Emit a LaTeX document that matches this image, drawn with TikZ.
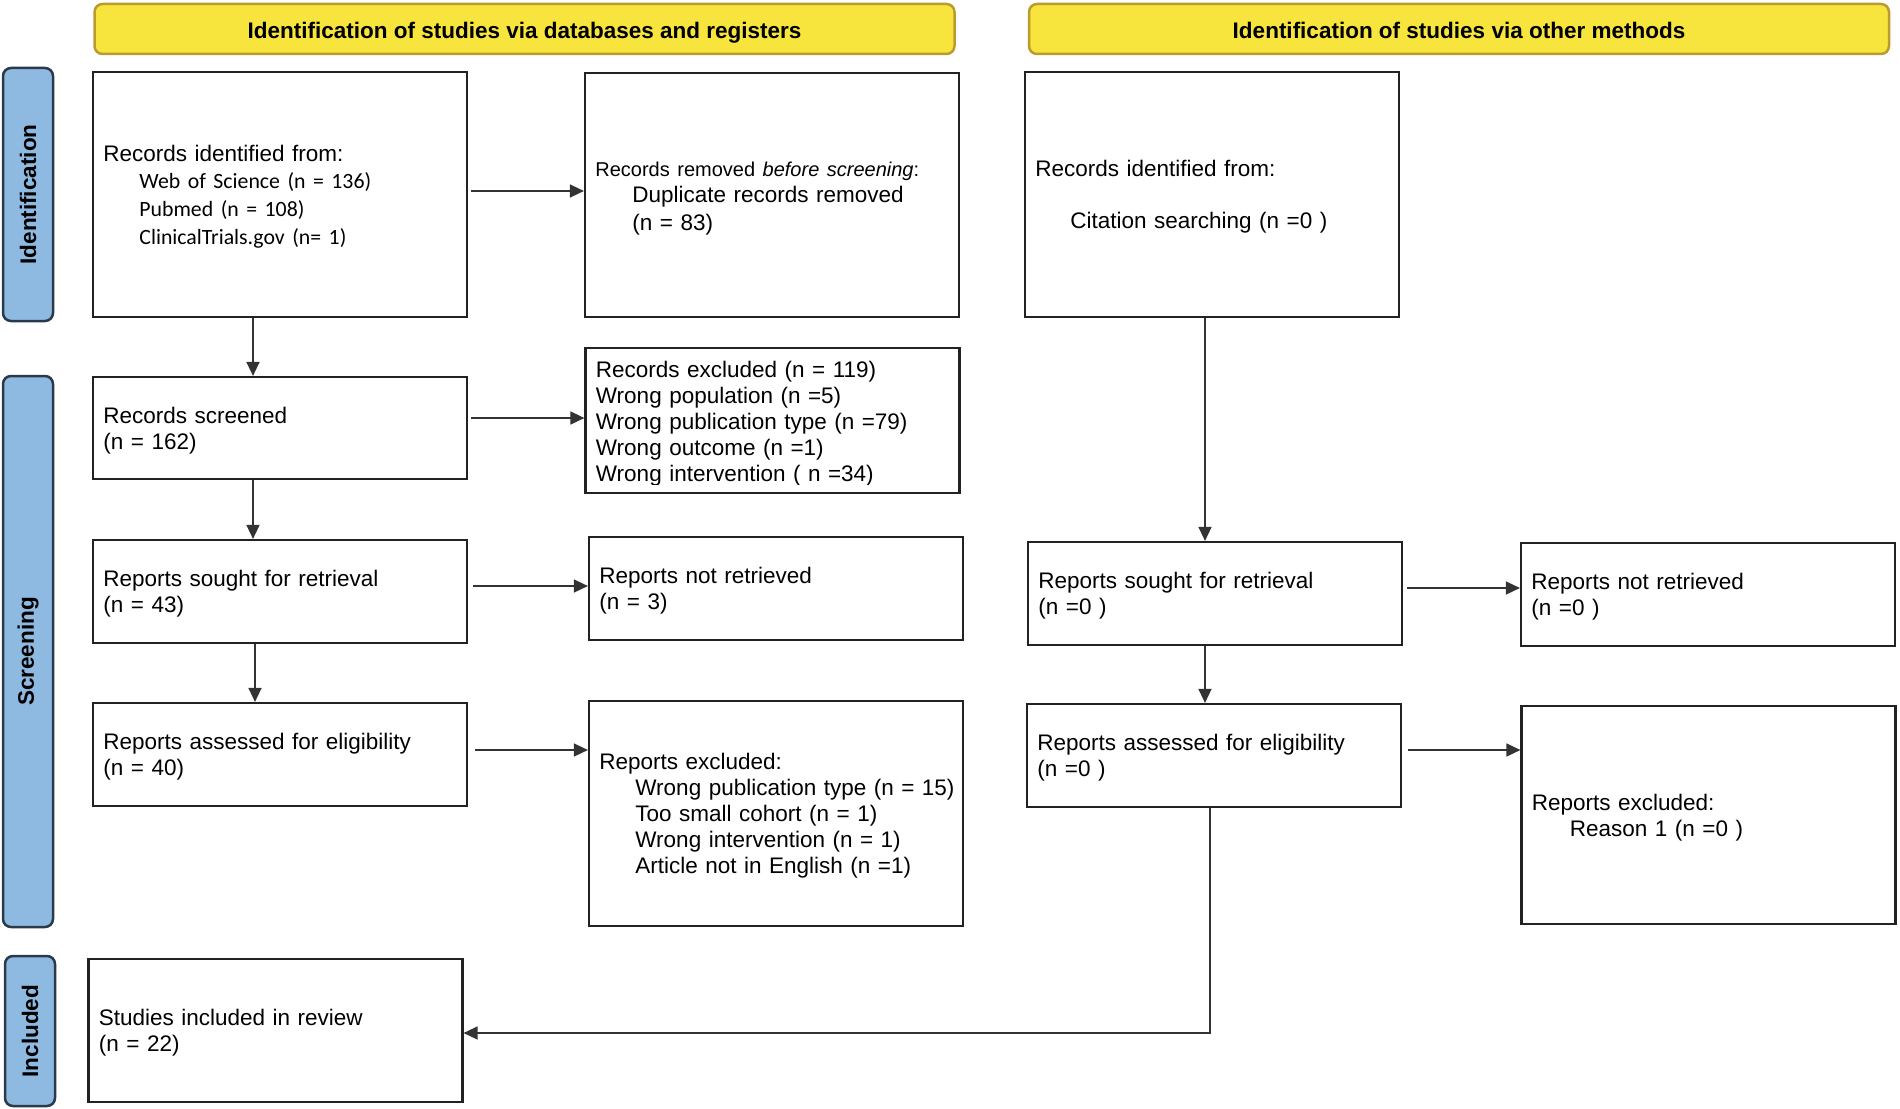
\documentclass[tikz,border=0pt]{standalone}
\usepackage{fontspec}
\setmainfont{Liberation Sans}
\newfontfamily\calib{Carlito}
\usetikzlibrary{arrows.meta}
\definecolor{hdrfill}{HTML}{F7E43C}
\definecolor{hdrline}{HTML}{BD9A2E}
\definecolor{barfill}{HTML}{8EB9E1}
\definecolor{barline}{HTML}{2B3A4A}
\definecolor{boxline}{HTML}{222222}
\definecolor{conline}{HTML}{333333}
\newcommand\fsz{\fontsize{22.5}{26}\selectfont}
\newcommand\ind[1]{\hspace*{#1pt}}
\newcommand\calfsz{\calib\fontsize{21.8}{26}\selectfont}
\begin{document}
\begin{tikzpicture}[x=1pt,y=-1pt,
  box/.style={draw=boxline, line width=2.2pt, fill=white, rectangle, align=left,
    inner xsep=10.4pt, inner ysep=0pt, text width=353.2pt, minimum height=#1, font=\fsz,
    execute at begin node={\rule{0pt}{21.5pt}}},
  box/.default=100,
  emptybox/.style={draw=boxline, line width=2.2pt, fill=white, rectangle,
    inner sep=0pt, minimum width=374pt, minimum height=#1},
  boxtext/.style={rectangle, align=left, inner xsep=10.4pt, inner ysep=0pt, text width=353.2pt, font=\fsz},
  hdr/.style={draw=hdrline, fill=hdrfill, line width=2.5pt, rounded corners=8pt,
    minimum width=860pt, minimum height=50pt, font=\bfseries\fsz,
    text height=19pt, text depth=0.5pt},
  bar/.style={draw=barline, fill=barfill, line width=2.5pt, rounded corners=8pt,
    rotate=90, minimum height=50pt, minimum width=#1, font=\bfseries\fsz},
  arr/.style={draw=conline, line width=1.5pt, -{Triangle[length=14pt,width=13pt]}},
]
\useasboundingbox (0,0) rectangle (1900,1108);

% headers
\node[hdr] (H1) at (524.5,29) {Identification of studies via databases and registers};
\node[hdr] (H2) at (1459,29) {Identification of studies via other methods};

% side bars
\node[bar=253pt] (barId) at (28,194.5) {Identification};
\node[bar=551pt] (barSc) at (28,651.5) {Screening};
\node[bar=150pt] (barIn) at (30,1031) {Included};

% left column
\node[box=245pt] (A) at (280,194.5) {Records identified from:\\[1pt]
  {\calfsz\ind{36}Web of Science (n = 136)}\\[2pt]
  {\calfsz\ind{36}Pubmed (n = 108)}\\[2pt]
  {\calfsz\ind{36}ClinicalTrials.gov (n= 1)}};
\node[box=102pt] (Scr) at (280,428) {Records screened\\(n = 162)};
\node[box=103pt] (Sought) at (280,591.5) {Reports sought for retrieval\\(n = 43)};
\node[box=103pt] (Assess) at (280,754.5) {Reports assessed for eligibility\\(n = 40)};
\node[box=143pt] (Incl) at (275.5,1030.5) {Studies included in review\\(n = 22)};

% middle column
\node[box=244pt] (B) at (772,195) {{\fontsize{20}{24}\selectfont Records removed \textit{before screening}:}\\
  \ind{37}Duplicate records removed\\[2pt]
  \ind{37}(n = 83)};
\node[emptybox=145pt] (Exc) at (772.5,420.5) {};
\begin{scope}
  \clip ([xshift=-1pt]Exc.north west) rectangle ([yshift=10pt]Exc.south east);
  \node[boxtext] (ExcT) at ([yshift=-3.5pt]Exc.center) {Records excluded (n = 119)\\
    Wrong population (n =5)\\
    \mbox{Wrong publication type (n =79)}\\
    Wrong outcome (n =1)\\
    Wrong intervention ( n =34)};
\end{scope}
\node[box=103pt] (NotRet) at (776,588.5) {Reports not retrieved\\(n = 3)};
\node[box=225pt] (RepExc) at (776,813.5) {Reports excluded:\\
  \ind{36}\mbox{Wrong publication type (n = 15)}\\
  \ind{36}\mbox{Too small cohort (n = 1)}\\
  \ind{36}\mbox{Wrong intervention (n = 1)}\\
  \ind{36}\mbox{Article not in English (n =1)}};

% right columns
\node[box=245pt] (C) at (1212,194.5) {Records identified from:\\[26pt]
  \ind{35}Citation searching (n =0 )};
\node[box=103pt] (Sought2) at (1215,593.5) {Reports sought for retrieval\\(n =0 )};
\node[box=103pt] (Assess2) at (1214,755.5) {Reports assessed for eligibility\\(n =0 )};
\node[box=103pt] (NotRet2) at (1708,594.5) {Reports not retrieved\\(n =0 )};
\node[box=218pt] (RepExc2) at (1708.5,815) {Reports excluded:\\
  \ind{38}Reason 1 (n =0 )};

% connectors
\coordinate (c1) at ([xshift=3pt,yshift=3.5pt]A.east);
\draw[arr] (c1) -- (c1 -| B.west);
\coordinate (c2) at ([xshift=-27pt]A.south);
\draw[arr] (c2) -- (c2 |- Scr.north);
\coordinate (c3) at ([xshift=3pt,yshift=10pt]Scr.east);
\draw[arr] (c3) -- (c3 -| Exc.west);
\coordinate (c4) at ([xshift=-27pt]Scr.south);
\draw[arr] (c4) -- (c4 |- Sought.north);
\coordinate (c5) at ([xshift=5pt,yshift=5.5pt]Sought.east);
\draw[arr] (c5) -- (c5 -| NotRet.west);
\coordinate (c6) at ([xshift=-25pt]Sought.south);
\draw[arr] (c6) -- (c6 |- Assess.north);
\coordinate (c7) at ([xshift=7pt,yshift=4.5pt]Assess.east);
\draw[arr] (c7) -- (c7 -| RepExc.west);
\coordinate (c8) at ([xshift=-7pt]C.south);
\draw[arr] (c8) -- (c8 |- Sought2.north);
\coordinate (c9) at ([xshift=4pt,yshift=5.5pt]Sought2.east);
\draw[arr] (c9) -- (c9 -| NotRet2.west);
\coordinate (c10) at ([xshift=-10pt]Sought2.south);
\draw[arr] (c10) -- (c10 |- Assess2.north);
\coordinate (c11) at ([xshift=6pt,yshift=5.5pt]Assess2.east);
\draw[arr] (c11) -- (c11 -| RepExc2.west);
\coordinate (c12) at ([xshift=-4pt]Assess2.south);
\coordinate (d12) at ([yshift=-2.5pt]Incl.east);
\draw[arr] (c12) |- (d12);
\end{tikzpicture}
\end{document}
